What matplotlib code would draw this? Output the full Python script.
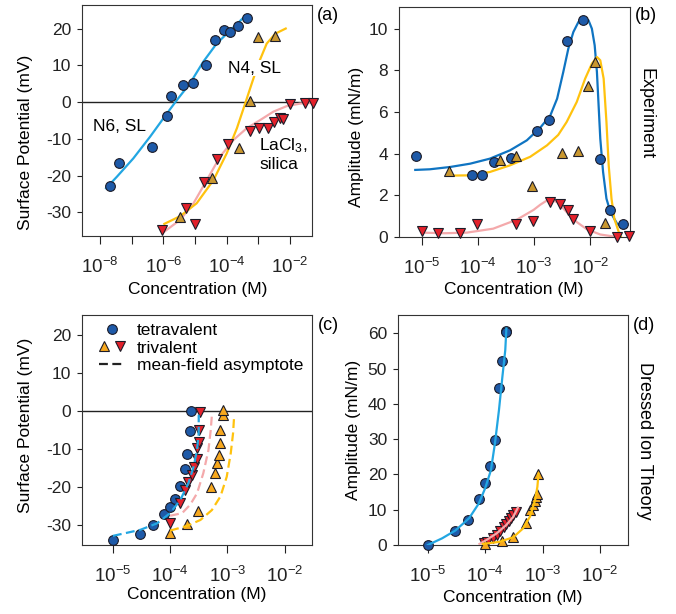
import numpy as np
import matplotlib
matplotlib.use('Agg')
import matplotlib.pyplot as plt
from matplotlib.lines import Line2D
from matplotlib.ticker import NullLocator
from matplotlib.legend_handler import HandlerTuple

plt.rcParams['font.family'] = ['Liberation Sans', 'DejaVu Sans']
plt.rcParams['mathtext.fontset'] = 'custom'
plt.rcParams['mathtext.rm'] = 'Liberation Sans'
plt.rcParams['mathtext.it'] = 'Liberation Sans:italic'
plt.rcParams['axes.unicode_minus'] = False
plt.rcParams['font.size'] = 12.5

# ---- data (concentrations as log10 of M) ----
# (a) surface potential, experiment
a_n6_logc = [-7.68, -7.39, -6.37, -5.89, -5.77, -5.39, -5.07, -4.66, -4.37, -4.08, -3.89, -3.66, -3.37]
a_n6_psi = [-22.8, -16.5, -12.1, -3.7, 1.7, 4.7, 5.1, 10.0, 16.8, 19.5, 19.1, 20.6, 23.0]
a_n4_logc = [-5.47, -4.47, -3.60, -3.28, -3.0, -2.47]
a_n4_psi = [-31.1, -20.5, -12.4, 0.3, 17.7, 18.0]
a_la_logc = [-6.06, -5.29, -5.0, -4.71, -4.31, -3.95, -3.28, -2.98, -2.7, -2.5, -2.33, -2.24, -2.0, -1.53, -1.29]
a_la_psi = [-34.8, -28.9, -33.1, -21.7, -15.6, -11.5, -7.8, -7.0, -7.0, -5.3, -4.4, -4.6, -0.5, -0.2, -0.2]
a_n6_fit_logc = [-7.81, -7.47, -6.95, -6.42, -5.89, -5.58, -5.16, -4.74, -4.32, -3.89, -3.42]
a_n6_fit_psi = [-23.4, -20.3, -15.3, -9.4, -3.1, 0.5, 5.1, 11.0, 15.9, 19.5, 23.4]
a_n4_fit_logc = [-5.97, -5.47, -4.95, -4.42, -4.0, -3.68, -3.42, -3.21, -3.0, -2.74, -2.47, -2.14]
a_n4_fit_psi = [-33.1, -31.0, -27.5, -21.2, -13.9, -7.1, -0.4, 5.1, 10.5, 15.9, 18.6, 20.0]
a_la_fit_logc = [-6.0, -5.47, -5.05, -4.63, -4.21, -3.79, -3.37, -2.95, -2.53, -2.11, -1.68, -1.31]
a_la_fit_psi = [-35.4, -32.0, -27.5, -21.2, -14.8, -10.3, -7.1, -4.9, -2.6, -1.1, -0.4, -0.2]

# (b) amplitude, experiment
b_tet_logc = [-5.11, -4.11, -3.93, -3.71, -3.41, -2.94, -2.73, -2.42, -2.12, -1.82, -1.64, -1.42]
b_tet_amp = [3.90, 2.99, 2.99, 3.59, 3.81, 5.11, 5.61, 9.41, 10.4, 3.74, 1.28, 0.6]
b_n4_logc = [-4.52, -3.61, -3.33, -3.04, -2.50, -2.21, -2.04, -1.92, -1.73]
b_n4_amp = [3.17, 3.68, 3.89, 2.45, 4.02, 4.13, 7.25, 8.39, 0.69]
b_la_logc = [-5.0, -4.71, -4.32, -4.01, -3.32, -3.02, -2.71, -2.54, -2.40, -2.31, -2.0, -1.52, -1.31]
b_la_amp = [0.28, 0.2, 0.2, 0.62, 0.62, 0.75, 1.68, 1.57, 1.31, 0.85, 0.3, 0.0, 0.05]
b_tet_fit_logc = [-5.12, -4.86, -4.5, -4.14, -3.79, -3.43, -3.13, -2.89, -2.71, -2.59, -2.48, -2.39,
                  -2.30, -2.21, -2.12, -2.03, -1.97, -1.92, -1.88, -1.85, -1.82, -1.77, -1.71,
                  -1.64, -1.52, -1.41]
b_tet_fit_amp = [3.22, 3.25, 3.36, 3.52, 3.76, 4.16, 4.64, 5.25, 5.84, 6.64, 7.92, 9.04,
                 9.84, 10.32, 10.51, 10.4, 10.0, 9.2, 7.92, 6.32, 4.72, 3.12, 1.84,
                 1.2, 0.64, 0.48]
b_n4_fit_logc = [-4.42, -4.14, -3.79, -3.43, -3.07, -2.77, -2.57, -2.42, -2.24, -2.09, -1.97,
                 -1.88, -1.82, -1.76, -1.71, -1.67, -1.62, -1.57, -1.49, -1.45]
b_n4_fit_amp = [2.95, 2.96, 3.12, 3.44, 3.85, 4.4, 4.9, 5.52, 6.48, 7.6, 8.32,
                8.64, 8.48, 7.6, 5.52, 3.44, 1.84, 0.88, 0.24, 0.0]
b_la_fit_logc = [-5.0, -4.6, -4.2, -3.73, -3.31, -3.01, -2.89, -2.74, -2.59, -2.42, -2.24,
                 -2.06, -1.82, -1.52]
b_la_fit_amp = [0.21, 0.18, 0.21, 0.4, 0.83, 1.3, 1.55, 1.81, 1.68, 1.2, 0.72,
                0.37, 0.12, 0.0]

# (c) surface potential, dressed ion theory
c_tet_logc = [-5.0, -4.52, -4.30, -4.10, -4.0, -3.91, -3.82, -3.74, -3.71, -3.66, -3.64]
c_tet_psi = [-34.1, -32.4, -30.1, -27.2, -25.2, -23.1, -19.7, -15.4, -11.3, -5.2, -0.1]
c_la_logc = [-4.0, -3.82, -3.74, -3.68, -3.62, -3.59, -3.53, -3.53, -3.50, -3.49, -3.47]
c_la_psi = [-29.4, -24.3, -20.8, -18.6, -16.8, -14.7, -12.7, -9.8, -8.1, -5.0, -0.2]
c_n4_logc = [-4.0, -3.70, -3.52, -3.29, -3.21, -3.18, -3.14, -3.12, -3.12, -3.08, -3.08]
c_n4_psi = [-32.2, -29.8, -26.4, -19.9, -16.2, -13.8, -11.6, -8.3, -4.9, -1.1, 0.3]
c_tet_mf_logc = [-5.0, -4.52, -4.23, -4.0, -3.82, -3.68, -3.59, -3.53, -3.50, -3.50]
c_tet_mf_psi = [-32.9, -31.3, -29.6, -26.9, -23.4, -19.0, -14.7, -10.3, -5.9, -1.0]
c_la_mf_logc = [-4.0, -3.79, -3.65, -3.53, -3.42, -3.33, -3.29, -3.27]
c_la_mf_psi = [-27.6, -26.9, -24.7, -21.7, -16.4, -10.3, -5.0, -1.1]
c_n4_mf_logc = [-4.0, -3.71, -3.47, -3.27, -3.12, -3.01, -2.94, -2.90, -2.88]
c_n4_mf_psi = [-31.5, -30.3, -28.7, -26.1, -22.5, -17.3, -11.1, -5.9, -1.1]

# (d) amplitude, dressed ion theory
d_tet_logc = [-5.0, -4.52, -4.30, -4.10, -4.0, -3.92, -3.83, -3.76, -3.70, -3.64, -3.63]
d_tet_amp = [0.0, 4.1, 7.2, 13.0, 17.5, 22.3, 29.9, 44.4, 52.2, 60.7, 60.3]
d_la_logc = [-4.02, -3.97, -3.86, -3.80, -3.74, -3.68, -3.63, -3.59, -3.55, -3.51, -3.47]
d_la_amp = [0.5, 0.9, 2.0, 2.9, 3.9, 5.0, 6.0, 6.8, 7.6, 8.5, 9.4]
d_n4_logc = [-4.0, -3.70, -3.52, -3.29, -3.21, -3.17, -3.13, -3.11, -3.09, -3.08]
d_n4_amp = [0.4, 1.2, 2.4, 6.3, 9.8, 11.2, 12.5, 13.5, 14.5, 20.2]
d_tet_fit_logc = [-5.0, -4.75, -4.52, -4.28, -4.11, -4.0, -3.90, -3.83, -3.76, -3.70, -3.65, -3.63]
d_tet_fit_amp = [0, 1.9, 4.1, 7.6, 11.8, 16.1, 21.2, 28.8, 38.2, 47.7, 55.2, 61.4]
d_la_fit_logc = [-4.10, -3.98, -3.80, -3.63, -3.51, -3.43]
d_la_fit_amp = [0.3, 1.4, 3.3, 5.7, 8.0, 10.6]
d_n4_fit_logc = [-4.04, -3.75, -3.51, -3.34, -3.22, -3.13, -3.09, -3.07]
d_n4_fit_amp = [0.3, 0.9, 2.2, 4.7, 8.0, 12.7, 16.5, 20.2]

# ticks
a_xticks = [-8, -7, -6, -5, -4, -3, -2]
a_xticklabels = ['10$^{-8}$', '', '10$^{-6}$', '', '10$^{-4}$', '', '10$^{-2}$']
bcd_xticks = [-5, -4, -3, -2]
bcd_xticklabels = ['10$^{-5}$', '10$^{-4}$', '10$^{-3}$', '10$^{-2}$']
psi_yticks = [-30, -20, -10, 0, 10, 20]
b_yticks = [0, 2, 4, 6, 8, 10]
d_yticks = [0, 10, 20, 30, 40, 50, 60]

# colours
dark_blue = '#1e5aa8'
edge = '#1c1c28'
sky = '#22a6e2'
mid_blue = '#0f74c2'
gold = '#ffc20e'
pink = '#f4a9ab'
tan = '#c9972f'
orange = '#f7a81e'
red = '#e3212b'


def c(v):
    return 10.0 ** np.array(v)


def pts(ax, x, y, marker, color, z=4, ms=7.0):
    ax.plot(c(x), y, ls='none', marker=marker, ms=ms, mfc=color, mec=edge,
            mew=0.8, zorder=z, clip_on=False)


def setup(ax, xlim, ylim, xt, xtl, yt):
    ax.set_xscale('log')
    ax.set_xlim(10.0 ** xlim[0], 10.0 ** xlim[1])
    ax.set_ylim(ylim)
    ax.set_xticks(c(xt))
    ax.set_xticklabels(xtl)
    ax.xaxis.set_minor_locator(NullLocator())
    ax.set_yticks(yt)
    ax.tick_params(axis='x', direction='out', length=5.5, width=0.8, pad=9.5,
                   colors='#222222', labelsize=13.5)
    ax.tick_params(axis='y', direction='out', length=3.8, width=0.8, pad=4, colors='#222222')
    for s in ax.spines.values():
        s.set_linewidth(0.8)
        s.set_color('#333333')


fig = plt.figure(figsize=(6.76, 6.14), dpi=100)
W, H = 676.0, 614.0


def box(l, t, r, b):
    return fig.add_axes([l / W, 1 - b / H, (r - l) / W, (b - t) / H])


axa = box(82, 5, 312, 236)
axb = box(399, 7, 630, 237)
axc = box(82, 315, 312, 545)
axd = box(398, 315, 628, 545)

# ---- (a) ----
setup(axa, (-8.57, -1.31), (-36.4, 26.4), a_xticks, a_xticklabels, psi_yticks)
axa.axhline(0, color='#222222', lw=1.0, zorder=1)
axa.plot(c(a_n6_fit_logc), a_n6_fit_psi, color=sky, lw=1.6, zorder=2)
axa.plot(c(a_la_fit_logc), a_la_fit_psi, color=pink, lw=1.6, zorder=2)
axa.plot(c(a_n4_fit_logc), a_n4_fit_psi, color=gold, lw=1.6, zorder=2)
pts(axa, a_n6_logc, a_n6_psi, 'o', dark_blue)
pts(axa, a_n4_logc, a_n4_psi, '^', tan, ms=7.5)
pts(axa, a_la_logc, a_la_psi, 'v', red, ms=7.5)
axa.text(0.165, 0.472, 'N6, SL', transform=axa.transAxes, ha='center', va='center', zorder=6)
axa.text(0.748, 0.727, 'N4, SL', transform=axa.transAxes, ha='center', va='center', zorder=6,
         bbox=dict(facecolor='white', edgecolor='none', pad=0.5))
axa.text(0.77, 0.355, 'LaCl$_3$,\nsilica', transform=axa.transAxes, ha='left', va='center',
         zorder=6, linespacing=1.15)
axa.set_ylabel('Surface Potential (mV)')
axa.yaxis.set_label_coords(-0.213, 0.405)
axa.set_xlabel('Concentration (M)')
axa.xaxis.set_label_coords(0.502, -0.199)

# ---- (b) ----
setup(axb, (-5.41, -1.29), (0, 11.04), bcd_xticks, bcd_xticklabels, b_yticks)
axb.plot(c(b_tet_fit_logc), b_tet_fit_amp, color=mid_blue, lw=1.6, zorder=2)
axb.plot(c(b_n4_fit_logc), b_n4_fit_amp, color=gold, lw=1.6, zorder=2)
axb.plot(c(b_la_fit_logc), b_la_fit_amp, color=pink, lw=1.6, zorder=2)
pts(axb, b_tet_logc, b_tet_amp, 'o', dark_blue)
pts(axb, b_n4_logc, b_n4_amp, '^', tan, ms=7.5)
pts(axb, b_la_logc, b_la_amp, 'v', red, ms=7.5)
axb.set_ylabel('Amplitude (mN/m)')
axb.yaxis.set_label_coords(-0.152, 0.435)
axb.set_xlabel('Concentration (M)')
axb.xaxis.set_label_coords(0.498, -0.196)

# ---- (c) ----
setup(axc, (-5.54, -1.52), (-35.3, 25.3), bcd_xticks, bcd_xticklabels, psi_yticks)
axc.axhline(0, color='#222222', lw=1.0, zorder=1)
pts(axc, c_tet_logc, c_tet_psi, 'o', dark_blue, z=3)
pts(axc, c_la_logc, c_la_psi, 'v', red, ms=7.5)
pts(axc, c_n4_logc, c_n4_psi, '^', orange, ms=7.5)
axc.plot(c(c_tet_mf_logc), c_tet_mf_psi, color=sky, lw=1.6, dashes=(4, 2), zorder=5)
axc.plot(c(c_la_mf_logc), c_la_mf_psi, color=pink, lw=1.6, dashes=(4, 2), zorder=5)
axc.plot(c(c_n4_mf_logc), c_n4_mf_psi, color=gold, lw=1.6, dashes=(4, 2), zorder=5)
h_tet = Line2D([], [], ls='none', marker='o', ms=7, mfc=dark_blue, mec=edge, mew=0.8)
h_up = Line2D([], [], ls='none', marker='^', ms=7.5, mfc=orange, mec=edge, mew=0.8)
h_dn = Line2D([], [], ls='none', marker='v', ms=7.5, mfc=red, mec=edge, mew=0.8)
h_mf = Line2D([], [], color='#222222', lw=1.6, dashes=(4, 2))
axc.legend([h_tet, (h_up, h_dn), h_mf], ['tetravalent', 'trivalent', 'mean-field asymptote'],
           handler_map={tuple: HandlerTuple(ndivide=None, pad=0.3)},
           loc='upper left', bbox_to_anchor=(0.028, 1.01), frameon=False,
           handlelength=1.5, handletextpad=0.7, labelspacing=0.12, borderaxespad=0.2)
axc.set_ylabel('Surface Potential (mV)')
axc.yaxis.set_label_coords(-0.213, 0.52)
axc.set_xlabel('Concentration (M)')
axc.xaxis.set_label_coords(0.5, -0.183)

# ---- (d) ----
setup(axd, (-5.52, -1.51), (0, 65.2), bcd_xticks, bcd_xticklabels, d_yticks)
pts(axd, d_tet_logc, d_tet_amp, 'o', dark_blue, z=3)
pts(axd, d_la_logc, d_la_amp, 'v', red, ms=7.5)
pts(axd, d_n4_logc, d_n4_amp, '^', orange, ms=7.5)
axd.plot(c(d_tet_fit_logc), d_tet_fit_amp, color=sky, lw=1.6, zorder=5)
axd.plot(c(d_la_fit_logc), d_la_fit_amp, color=pink, lw=1.6, zorder=5)
axd.plot(c(d_n4_fit_logc), d_n4_fit_amp, color=gold, lw=1.6, zorder=5)
axd.set_ylabel('Amplitude (mN/m)')
axd.yaxis.set_label_coords(-0.16, 0.5)
axd.set_xlabel('Concentration (M)')
axd.xaxis.set_label_coords(0.5, -0.196)

# panel tags and side titles
fig.text(328 / W, 1 - 15 / H, '(a)', ha='center', va='center', fontsize=13)
fig.text(646 / W, 1 - 15 / H, '(b)', ha='center', va='center', fontsize=13)
fig.text(328 / W, 1 - 325 / H, '(c)', ha='center', va='center', fontsize=13)
fig.text(644 / W, 1 - 325 / H, '(d)', ha='center', va='center', fontsize=13)
fig.text(646 / W, 1 - 114 / H, 'Experiment', rotation=-90, ha='center', va='center', fontsize=13)
fig.text(644 / W, 1 - 441 / H, 'Dressed Ion Theory', rotation=-90, ha='center', va='center', fontsize=13)

fig.savefig('out.png', dpi=100)
